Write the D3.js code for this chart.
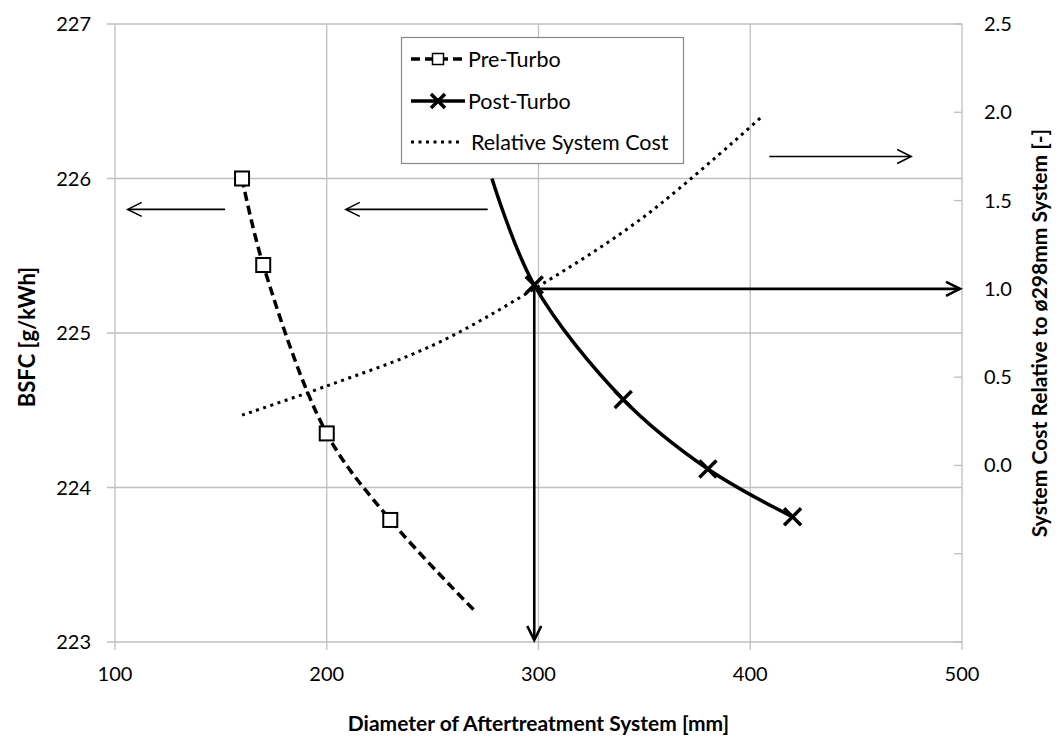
<!DOCTYPE html>
<html><head><meta charset="utf-8">
<script src="https://cdn.jsdelivr.net/npm/d3@7"></script>
<style>
body{margin:0;background:#fff;}
text{font-family:Lato,"Open Sans",sans-serif;fill:#000;}
</style></head>
<body><svg id="c" width="1059" height="747"></svg>
<script>
// ---- data ----
const xTicks = [100,200,300,400,500];
const bsfcTicks = [223,224,225,226,227];
const costTicks = [-1,-0.5,0,0.5,1,1.5,2,2.5];
const costLabels = ["","","0.0","0.5","1.0","1.5","2.0","2.5"];

const preX = [160,170,200,230,270];
const preBSFC = [226.0,225.44,224.35,223.79,223.2];
const preMarked = [true,true,true,true,false];

const postX = [278,298,340,380,420];
const postBSFC = [226.0,225.31,224.57,224.12,223.81];
const postMarked = [false,true,true,true,true];

const costX = [160,200,250,298,350,405];
const costVal = [0.285,0.45,0.68,1.0,1.41,1.97];

// annotation arrows (data units)
const leftArrowFrom = [152,276];
const leftArrowTo = [106,209];
const leftArrowLevel = 225.8;
const costArrow = {from:409,to:476,level:1.75};
const refDiameter = 298;
const refCost = 1.0;

// ---- layout ----
const svg = d3.select("#c");
const L=115,R=962,T=24,B=642;
const x = d3.scaleLinear([100,500],[L,R]);
const yL = d3.scaleLinear([223,227],[B,T]);
const yR = d3.scaleLinear([-1,2.5],[B,T]);
const grid = "#bfbfbf";

// gridlines
svg.append("g").selectAll("line").data(bsfcTicks).join("line")
  .attr("x1",L-8).attr("x2",R).attr("y1",d=>yL(d)).attr("y2",d=>yL(d))
  .attr("stroke",grid).attr("stroke-width",1.3);
svg.append("g").selectAll("line").data(xTicks).join("line")
  .attr("x1",d=>x(d)).attr("x2",d=>x(d)).attr("y1",T).attr("y2",B+8)
  .attr("stroke",grid).attr("stroke-width",1.3);
// right axis ticks (inside)
svg.append("g").selectAll("line").data(costTicks).join("line")
  .attr("x1",R-8).attr("x2",R).attr("y1",d=>yR(d)).attr("y2",d=>yR(d))
  .attr("stroke",grid).attr("stroke-width",1.3);

// tick labels
const tickFont = "20px";
svg.append("g").selectAll("text").data(bsfcTicks).join("text")
  .attr("x",91).attr("y",d=>yL(d)).attr("dy","0.35em").attr("text-anchor","end")
  .style("font-size",tickFont).text(d=>d);
svg.append("g").selectAll("text").data(xTicks).join("text")
  .attr("x",d=>x(d)).attr("y",674).attr("dy","0.35em").attr("text-anchor","middle")
  .style("font-size",tickFont).text(d=>d);
svg.append("g").selectAll("text").data(costTicks).join("text")
  .attr("x",984).attr("y",d=>yR(d)).attr("dy","0.35em").attr("text-anchor","start")
  .style("font-size",tickFont).text((d,i)=>costLabels[i]);

// axis titles
svg.append("text").attr("x",(L+R)/2).attr("y",724).attr("dy","0.35em")
  .attr("text-anchor","middle").style("font-size","21px").style("font-weight","bold")
  .text("Diameter of Aftertreatment System [mm]");
svg.append("text").attr("transform",`translate(27,${(T+B)/2+4}) rotate(-90)`).attr("dy","0.35em")
  .attr("text-anchor","middle").style("font-size","22px").style("font-weight","bold")
  .text("BSFC [g/kWh]");
svg.append("text").attr("transform",`translate(1040,${(T+B)/2}) rotate(-90)`).attr("dy","0.35em")
  .attr("text-anchor","middle").style("font-size","21px").style("font-weight","bold")
  .text("System Cost Relative to ø298mm System [-]");

// series
const pre = preX.map((d,i)=>({x:d,y:preBSFC[i],m:preMarked[i]}));
const post = postX.map((d,i)=>({x:d,y:postBSFC[i],m:postMarked[i]}));
const cost = costX.map((d,i)=>({x:d,y:costVal[i]}));
const curve = d3.curveCatmullRom.alpha(0.5);

svg.append("path").datum(cost)
  .attr("d",d3.line().x(d=>x(d.x)).y(d=>yR(d.y)).curve(curve))
  .attr("fill","none").attr("stroke","#000").attr("stroke-width",3).attr("stroke-dasharray","3,4.5");

svg.append("path").datum(pre)
  .attr("d",d3.line().x(d=>x(d.x)).y(d=>yL(d.y)).curve(curve))
  .attr("fill","none").attr("stroke","#000").attr("stroke-width",3.5).attr("stroke-dasharray","9,5");

svg.append("path").datum(post)
  .attr("d",d3.line().x(d=>x(d.x)).y(d=>yL(d.y)).curve(curve))
  .attr("fill","none").attr("stroke","#000").attr("stroke-width",3.5);

// arrows
function chevron(g,tx,ty,dir,len,half,w){
  let p;
  if(dir==="left") p=[[tx+len,ty-half],[tx,ty],[tx+len,ty+half]];
  if(dir==="right") p=[[tx-len,ty-half],[tx,ty],[tx-len,ty+half]];
  if(dir==="down") p=[[tx-half,ty-len],[tx,ty],[tx+half,ty-len]];
  g.append("path").attr("d",d3.line()(p)).attr("fill","none").attr("stroke","#000")
   .attr("stroke-width",w).attr("stroke-linejoin","miter");
}
const ag = svg.append("g");
leftArrowFrom.forEach((f,i)=>{
  ag.append("line").attr("x1",x(f)).attr("x2",x(leftArrowTo[i])+1)
    .attr("y1",yL(leftArrowLevel)).attr("y2",yL(leftArrowLevel)).attr("stroke","#000").attr("stroke-width",1.6);
  chevron(ag,x(leftArrowTo[i]),yL(leftArrowLevel),"left",14,7,1.6);
});
ag.append("line").attr("x1",x(costArrow.from)).attr("x2",x(costArrow.to)-1)
  .attr("y1",yR(costArrow.level)).attr("y2",yR(costArrow.level)).attr("stroke","#000").attr("stroke-width",1.6);
chevron(ag,x(costArrow.to),yR(costArrow.level),"right",14,7,1.6);

// reference arrows
ag.append("line").attr("x1",x(refDiameter)).attr("x2",x(500)-2)
  .attr("y1",yR(refCost)).attr("y2",yR(refCost)).attr("stroke","#000").attr("stroke-width",2.6);
chevron(ag,x(500)-2,yR(refCost),"right",14,7,2.6);
ag.append("line").attr("x1",x(refDiameter)).attr("x2",x(refDiameter))
  .attr("y1",yL(postBSFC[1])).attr("y2",yL(223)-2).attr("stroke","#000").attr("stroke-width",2.6);
chevron(ag,x(refDiameter),yL(223)-2,"down",14,7,2.6);

// markers
svg.append("g").selectAll("rect").data(pre.filter(d=>d.m)).join("rect")
  .attr("x",d=>x(d.x)-7).attr("y",d=>yL(d.y)-7).attr("width",14).attr("height",14)
  .attr("fill","#fff").attr("stroke","#000").attr("stroke-width",2);
const xs = 8.5;
svg.append("g").selectAll("path").data(post.filter(d=>d.m)).join("path")
  .attr("d",d=>{const cx=x(d.x),cy=yL(d.y);return `M${cx-xs},${cy-xs}L${cx+xs},${cy+xs}M${cx-xs},${cy+xs}L${cx+xs},${cy-xs}`;})
  .attr("fill","none").attr("stroke","#000").attr("stroke-width",3.5);

// legend
const lg = svg.append("g");
lg.append("rect").attr("x",401.5).attr("y",37.5).attr("width",282).attr("height",126)
  .attr("fill","#fff").attr("stroke","#888").attr("stroke-width",1.2);
const items = [
  {label:"Pre-Turbo",y:59,dash:"9,5",w:3.5,mk:"sq"},
  {label:"Post-Turbo",y:101,dash:null,w:3.5,mk:"x"},
  {label:"Relative System Cost",y:142,dash:"3,4.5",w:3,mk:null}
];
items.forEach(it=>{
  lg.append("line").attr("x1",411).attr("x2",it.mk?465:461).attr("y1",it.y).attr("y2",it.y)
    .attr("stroke","#000").attr("stroke-width",it.w).attr("stroke-dasharray",it.dash);
  if(it.mk==="sq") lg.append("rect").attr("x",432.5).attr("y",it.y-5.5).attr("width",11).attr("height",11)
    .attr("fill","#fff").attr("stroke","#000").attr("stroke-width",1.5);
  if(it.mk==="x"){const s=7;lg.append("path").attr("d",`M${438-s},${it.y-s}L${438+s},${it.y+s}M${438-s},${it.y+s}L${438+s},${it.y-s}`)
    .attr("stroke","#000").attr("stroke-width",3.5);}
  lg.append("text").attr("x",it.mk?468:471).attr("y",it.y).attr("dy","0.35em")
    .style("font-size","21.5px").text(it.label);
});
</script></body></html>
